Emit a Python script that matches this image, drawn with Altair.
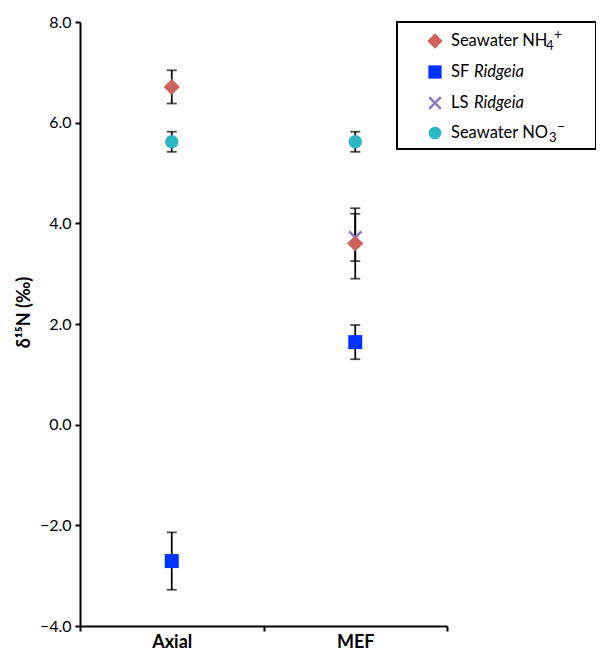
import altair as alt
import pandas as pd

# ---- data ----
categories = ["Axial", "MEF"]
series_names = ["Seawater NH4+", "SF Ridgeia", "LS Ridgeia", "Seawater NO3-"]
nh4_mean = [6.71, 3.60]
nh4_err = [0.33, 0.70]
sf_mean = [-2.71, 1.64]
sf_err = [0.57, 0.34]
ls_mean = [None, 3.72]
ls_err = [None, 0.47]
no3_mean = [5.62, 5.62]
no3_err = [0.20, 0.20]
y_ticks = [-4, -2, 0, 2, 4, 6, 8]
legend_plain = ["Seawater NH", "SF", "LS", "Seawater NO"]
legend_italic = ["", "Ridgeia", "Ridgeia", ""]
legend_sub = ["4", "", "", "3"]
legend_sup = ["+", "", "", "\u2212"]

colors = ["#CD645C", "#0033FF", "#8B77BE", "#2CB9C4"]
shapes = ["diamond", "square", "M-1,-1L1,1M1,-1L-1,1", "circle"]
filled = [True, True, False, True]
sizes = [260, 196, 150, 180]

FONT = "Lato"

rows = []
for name, means, errs in zip(series_names, [nh4_mean, sf_mean, ls_mean, no3_mean],
                             [nh4_err, sf_err, ls_err, no3_err]):
    for c, m, e in zip(categories, means, errs):
        if m is None:
            continue
        rows.append({"series": name, "site": c, "value": m, "lo": m - e, "hi": m + e})
df = pd.DataFrame(rows)

x_enc = alt.X(
    "site:N",
    scale=alt.Scale(type="band", domain=categories, paddingInner=0, paddingOuter=0),
    axis=alt.Axis(title=None, labelAngle=0, tickBand="extent", labelFontWeight="bold",
                  labelFontSize=18, labelPadding=2, labelFont=FONT),
)
y_scale = alt.Scale(domain=[-4, 8], nice=False, zero=False)
y_axis = alt.Axis(values=y_ticks, format=".1f", title="\u03b4\u00b9\u2075N (\u2030)",
                  titleFontWeight="bold", titleFontSize=18, titleFont=FONT,
                  titleX=-47, titleY=290, titleAlign="center",
                  labelFontSize=16, labelFont=FONT, labelPadding=4)


def yq(field):
    return alt.Y(field, scale=y_scale, axis=y_axis)


rule = alt.Chart(df).mark_rule(color="black", strokeWidth=1.75).encode(
    x=x_enc, y=yq("lo:Q"), y2="hi:Q")
cap_lo = alt.Chart(df).mark_tick(orient="horizontal", size=10, thickness=1.75, color="black").encode(
    x=x_enc, y=yq("lo:Q"))
cap_hi = alt.Chart(df).mark_tick(orient="horizontal", size=10, thickness=1.75, color="black").encode(
    x=x_enc, y=yq("hi:Q"))

layers = [rule, cap_lo, cap_hi]
order = [2, 0, 1, 3]
for i in order:
    sub = df[df["series"] == series_names[i]]
    if filled[i]:
        mk = alt.Chart(sub).mark_point(shape=shapes[i], filled=True, size=sizes[i],
                                       color=colors[i], opacity=1)
    else:
        mk = alt.Chart(sub).mark_point(shape=shapes[i], filled=False, size=sizes[i],
                                       color=colors[i], strokeWidth=2.5, opacity=1)
    layers.append(mk.encode(x=x_enc, y=yq("value:Q")))

# ---- manual legend (box, symbols, labels) ----
one = pd.DataFrame({"k": [0]})
layers.append(alt.Chart(one).mark_rect(fill="white", stroke="black", strokeWidth=2).encode(
    x=alt.value(317), x2=alt.value(516), y=alt.value(0), y2=alt.value(127)))
row_y = [19, 50, 81, 111]
sub_x = {0: 466, 3: 469}
for i in range(4):
    if filled[i]:
        sym = alt.Chart(one).mark_point(shape=shapes[i], filled=True, size=sizes[i] * 0.9,
                                        color=colors[i], opacity=1)
    else:
        sym = alt.Chart(one).mark_point(shape=shapes[i], filled=False, size=sizes[i] * 0.9,
                                        color=colors[i], strokeWidth=2.5, opacity=1)
    layers.append(sym.encode(x=alt.value(355), y=alt.value(row_y[i])))
    layers.append(alt.Chart(one).mark_text(align="left", baseline="middle", fontSize=16.5,
                                           font=FONT, color="black").encode(
        x=alt.value(371), y=alt.value(row_y[i]), text=alt.value(legend_plain[i])))
    if legend_italic[i]:
        layers.append(alt.Chart(one).mark_text(align="left", baseline="middle", fontSize=16.5,
                                               font=FONT, fontStyle="italic", color="black").encode(
            x=alt.value(394), y=alt.value(row_y[i]), text=alt.value(legend_italic[i])))
    if legend_sub[i]:
        layers.append(alt.Chart(one).mark_text(align="left", baseline="middle", fontSize=13,
                                               font=FONT, color="black", dy=5).encode(
            x=alt.value(sub_x[i]), y=alt.value(row_y[i]), text=alt.value(legend_sub[i])))
        layers.append(alt.Chart(one).mark_text(align="left", baseline="middle", fontSize=14,
                                               font=FONT, color="black", dy=-6).encode(
            x=alt.value(sub_x[i] + 8), y=alt.value(row_y[i]), text=alt.value(legend_sup[i])))

chart = alt.layer(*layers).properties(
    width=367, height=604,
    autosize=alt.AutoSizeParams(type="none"),
    padding={"left": 72, "top": 14, "right": 149, "bottom": 30},
).configure_view(stroke=None).configure_axis(
    grid=False, domainColor="black", domainWidth=2, tickColor="black", tickWidth=2,
    tickSize=5, labelColor="black", titleColor="black",
)

chart.save("out.html", embed_options={"renderer": "svg", "actions": False})
